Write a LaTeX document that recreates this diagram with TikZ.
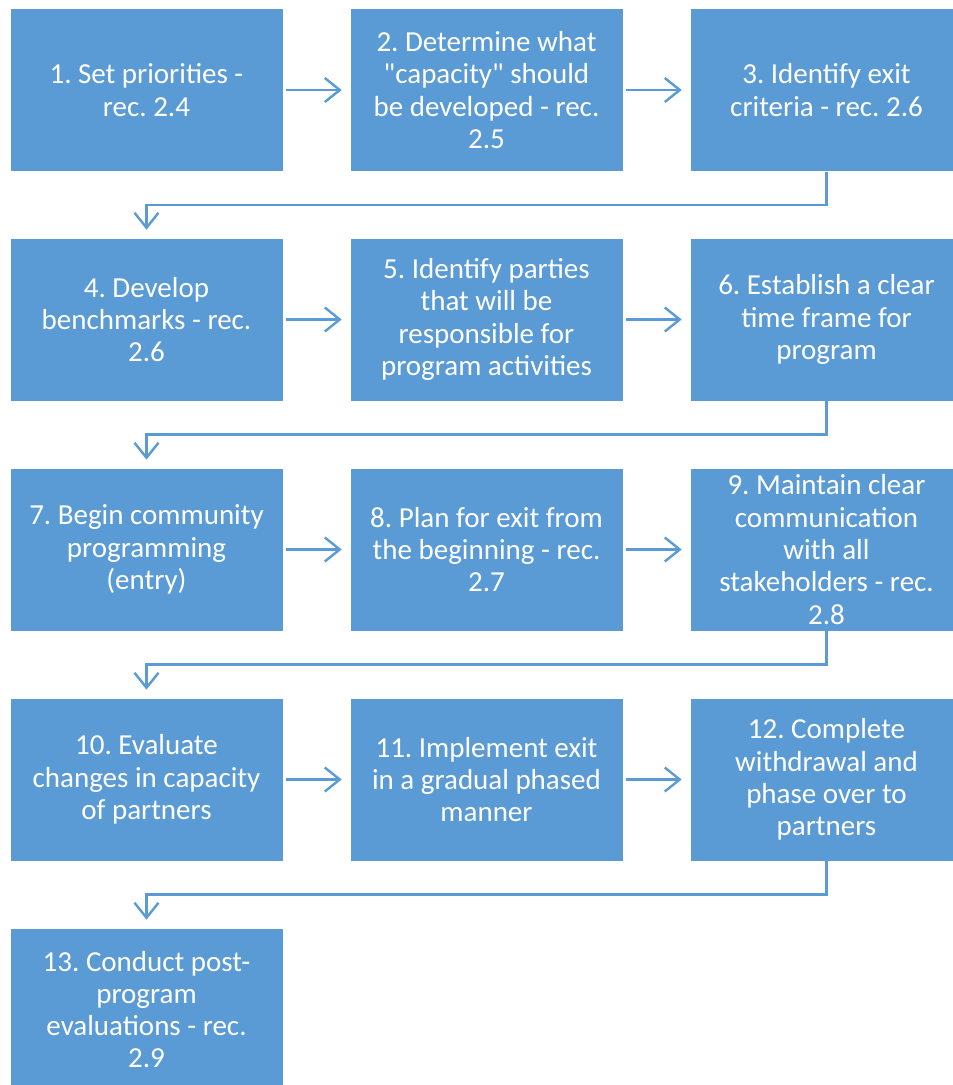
\documentclass[tikz,border=0pt]{standalone}
\usepackage{fontspec}
\setmainfont{Carlito}[Ligatures=TeXOff]
\usetikzlibrary{arrows.meta,calc}
\definecolor{boxblue}{HTML}{5B9BD5}
\frenchspacing
\tikzset{
  stepbox/.style={fill=boxblue, draw=white, line width=0.6pt, text=white, minimum width=273pt, minimum height=163pt, inner sep=0pt, align=center, font=\fontsize{29pt}{32.3pt}\selectfont},
  arr/.style={draw=boxblue, line width=2.4pt, -{Straight Barb[length=15pt,width=24pt,line width=2.4pt]}}
}
\begin{document}
\begin{tikzpicture}[x=1pt,y=1pt]
\useasboundingbox (0,0) rectangle (953,-1085);
\node[stepbox] (n1) at (146.5,-90) {1. Set priorities -\\rec. 2.4};
\node[stepbox] (n2) at (486.5,-90) {2. Determine what\\"capacity" should\\be developed - rec.\\2.5};
\node[stepbox] (n3) at (826.5,-90) {3. Identify exit\\criteria - rec. 2.6};
\node[stepbox] (n4) at (146.5,-319.5) {4. Develop\\benchmarks - rec.\\2.6};
\node[stepbox] (n5) at (486.5,-319.5) {5. Identify parties\\that will be\\responsible for\\program activities};
\node[stepbox] (n6) at (826.5,-319.5) {6. Establish a clear\\time frame for\\program};
\node[stepbox] (n7) at (146.5,-549.5) {7. Begin community\\programming\\(entry)};
\node[stepbox] (n8) at (486.5,-549.5) {8. Plan for exit from\\the beginning - rec.\\2.7};
\node[stepbox] (n9) at (826.5,-549.5) {9. Maintain clear\\communication\\with all\\stakeholders - rec.\\2.8};
\node[stepbox] (n10) at (146.5,-779.5) {10. Evaluate\\changes in capacity\\of partners};
\node[stepbox] (n11) at (486.5,-779.5) {11. Implement exit\\in a gradual phased\\manner};
\node[stepbox] (n12) at (826.5,-779.5) {12. Complete\\withdrawal and\\phase over to\\partners};
\node[stepbox] (n13) at (146.5,-1009.5) {13. Conduct post-\\program\\evaluations - rec.\\2.9};
% horizontal arrows
\foreach \a/\b in {n1/n2,n2/n3,n4/n5,n5/n6,n7/n8,n8/n9,n10/n11,n11/n12}{
  \draw[arr] ([xshift=3pt]\a.east) -- ([xshift=-8pt]\b.west);
}
% elbow arrows
\foreach \a/\b in {n3/n4,n6/n7,n9/n10,n12/n13}{
  \draw[arr] (\a.south) -- ($(\a.south)!0.5!(\a.south |- \b.north)$) -| ([yshift=8pt]\b.north);
}
\end{tikzpicture}
\end{document}
